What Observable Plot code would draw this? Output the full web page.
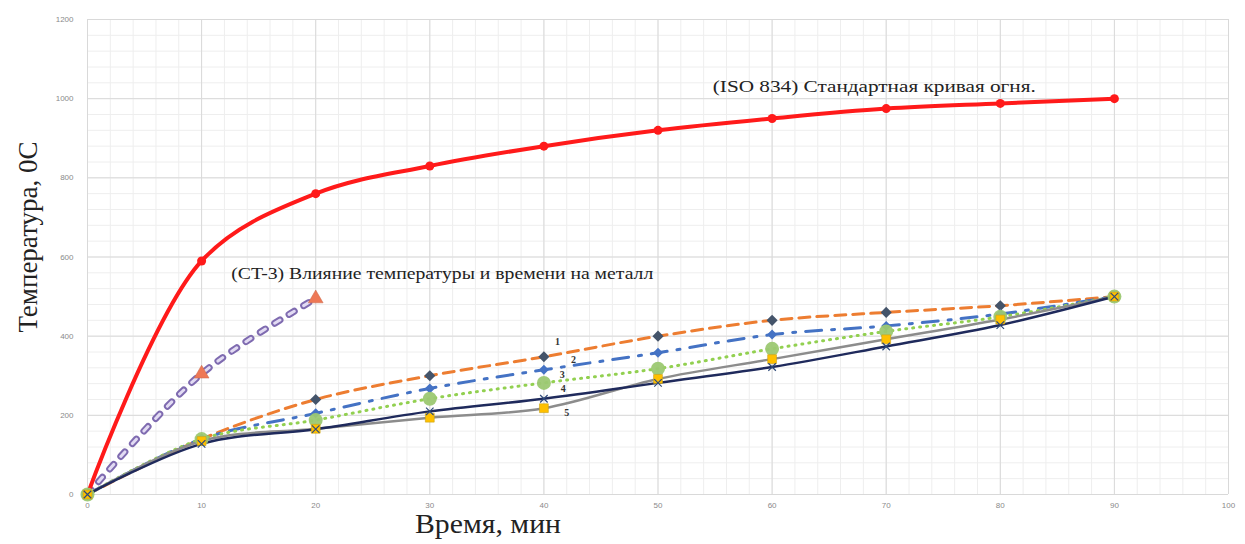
<!DOCTYPE html>
<html>
<head>
<meta charset="utf-8">
<script src="https://cdn.jsdelivr.net/npm/d3@7"></script>
<script src="https://cdn.jsdelivr.net/npm/@observablehq/plot@0.6"></script>
<style>
  html, body { margin: 0; padding: 0; background: #fff; }
  #chart svg { display: block; }
</style>
</head>
<body>
<div id="chart"></div>
<script>
// ---- data ----
const minutes = [0, 10, 20, 30, 40, 50, 60, 70, 80, 90];
const iso834  = [0, 590, 760, 830, 880, 920, 950, 975, 988, 1000];
const ct3Minutes = [0, 10, 20];
const ct3        = [0, 305, 495];
const series1 = [0, 140, 240, 300, 348, 400, 440, 460, 477, 500];
const series2 = [0, 140, 205, 268, 315, 358, 404, 426, 456, 500];
const series3 = [0, 140, 188, 242, 282, 318, 368, 412, 449, 500];
const series4 = [0, 135, 166, 194, 218, 292, 342, 392, 442, 500];
const series5 = [0, 128, 165, 210, 242, 282, 322, 374, 428, 500];

const xTicks = [0, 10, 20, 30, 40, 50, 60, 70, 80, 90, 100];
const yTicks = [0, 200, 400, 600, 800, 1000, 1200];

const isoLabel = "(ISO 834) Стандартная кривая огня.";
const ct3Label = "(CT-3) Влияние температуры и времени на металл";
const xTitle = "Время, мин";
const yTitle = "Температура, 0С";

// annotation anchors (data units)
const annotations = [
  {x: 54.8, y: 1031, text: isoLabel, len: 323},
  {x: 12.6, y: 557, text: ct3Label, len: 422}
];
const seriesNumbers = [
  {x: 41.2, y: 385, text: "1"},
  {x: 42.6, y: 340, text: "2"},
  {x: 41.6, y: 303, text: "3"},
  {x: 41.7, y: 266, text: "4"},
  {x: 42.0, y: 206, text: "5"}
];

const toRows = (xs, ys) => xs.map((x, i) => ({x, y: ys[i]}));
const iso = toRows(minutes, iso834);
const ct = toRows(ct3Minutes, ct3);
const s1 = toRows(minutes, series1);
const s2 = toRows(minutes, series2);
const s3 = toRows(minutes, series3);
const s4 = toRows(minutes, series4);
const s5 = toRows(minutes, series5);

const serif = "'Liberation Serif', 'DejaVu Serif', serif";
const curve = "catmull-rom";

const chart = Plot.plot({
  width: 1245,
  height: 544,
  marginLeft: 87,
  marginRight: 17,
  marginTop: 19,
  marginBottom: 50,
  style: {fontFamily: "'Liberation Sans', Arial, sans-serif", background: "#fff"},
  x: {domain: [0, 100]},
  y: {domain: [0, 1200]},
  marks: [
    // minor + major grid
    Plot.ruleX(d3.range(0, 101, 2), {stroke: "#eeeeee", strokeWidth: 1}),
    Plot.ruleY(d3.range(0, 1201, 40), {stroke: "#eeeeee", strokeWidth: 1}),
    Plot.ruleX(xTicks, {stroke: "#d9d9d9", strokeWidth: 1}),
    Plot.ruleY(yTicks, {stroke: "#d9d9d9", strokeWidth: 1}),
    Plot.axisX({ticks: xTicks, tickSize: 0, tickPadding: 8, fontSize: 8, color: "#8a8a8a", label: null, tickFormat: d => String(d)}),
    Plot.axisY({ticks: yTicks, tickSize: 0, tickPadding: 14, fontSize: 8, color: "#8a8a8a", label: null, tickFormat: d => String(d)}),

    // CT-3 purple hollow dashed line
    Plot.line(ct, {x: "x", y: "y", curve, stroke: "#7f6bb0", strokeWidth: 7, strokeDasharray: "6,11", strokeLinecap: "round"}),
    Plot.line(ct, {x: "x", y: "y", curve, stroke: "#e2dbf3", strokeWidth: 3, strokeDasharray: "6,11", strokeLinecap: "round"}),

    // red ISO curve
    Plot.line(iso, {x: "x", y: "y", curve, stroke: "#ff1a1a", strokeWidth: 4}),

    // steel series lines
    Plot.line(s1, {x: "x", y: "y", curve, stroke: "#ed7d31", strokeWidth: 3, strokeDasharray: "11,7"}),
    Plot.line(s2, {x: "x", y: "y", curve, stroke: "#4472c4", strokeWidth: 3, strokeDasharray: "16,10,3,10"}),
    Plot.line(s3, {x: "x", y: "y", curve, stroke: "#92d050", strokeWidth: 3, strokeDasharray: "1,6", strokeLinecap: "round"}),
    Plot.line(s4, {x: "x", y: "y", curve, stroke: "#8c8c8c", strokeWidth: 2.5}),
    Plot.line(s5, {x: "x", y: "y", curve, stroke: "#1f2a5c", strokeWidth: 2.5}),

    // markers
    Plot.dot(ct.slice(1), {x: "x", y: "y", symbol: "triangle", r: 5.5, fill: "#ee7855", stroke: "#c9684a", strokeWidth: 0.5}),
    Plot.dot(iso, {x: "x", y: "y", symbol: "circle", r: 4.5, fill: "#ff1a1a"}),
    Plot.dot(s1, {x: "x", y: "y", symbol: "diamond2", r: 5, fill: "#44546a"}),
    Plot.dot(s2, {x: "x", y: "y", symbol: "diamond2", r: 4.5, fill: "#4472c4"}),
    Plot.dot(s3, {x: "x", y: "y", symbol: "circle", r: 7, fill: "#9cc872", fillOpacity: 0.95}),
    Plot.dot(s4, {x: "x", y: "y", symbol: "square", r: 5, fill: "#ffc000", stroke: "#c9a21a", strokeWidth: 0.6}),
    Plot.dot(s5, {x: "x", y: "y", symbol: "times", r: 3.5, stroke: "#2e4a7a", strokeWidth: 1.2}),

    // annotations
    Plot.text(annotations, {x: "x", y: "y", text: "text", textAnchor: "start", fontFamily: serif, fontSize: 17, fill: "#222", className: "ann"}),
    Plot.text(seriesNumbers, {x: "x", y: "y", text: "text", fontFamily: serif, fontSize: 10, fontWeight: "bold", fill: "#333"}),

    // axis titles
    Plot.text([xTitle], {frameAnchor: "bottom", dx: -170, dy: 38, fontFamily: serif, fontSize: 27, fill: "#222", className: "xtitle"}),
    Plot.text([yTitle], {frameAnchor: "left", textAnchor: "middle", rotate: -90, dx: -59, dy: -20, fontFamily: serif, fontSize: 27, fill: "#222"})
  ]
});
// stretch annotation texts to the reference widths
d3.select(chart).selectAll("g.ann text").each(function(d, i) {
  this.setAttribute("textLength", annotations[i].len);
  this.setAttribute("lengthAdjust", "spacingAndGlyphs");
});
d3.select(chart).selectAll("g.xtitle text").each(function() {
  this.setAttribute("textLength", 146);
  this.setAttribute("lengthAdjust", "spacingAndGlyphs");
});
document.getElementById("chart").append(chart);
</script>
</body>
</html>
